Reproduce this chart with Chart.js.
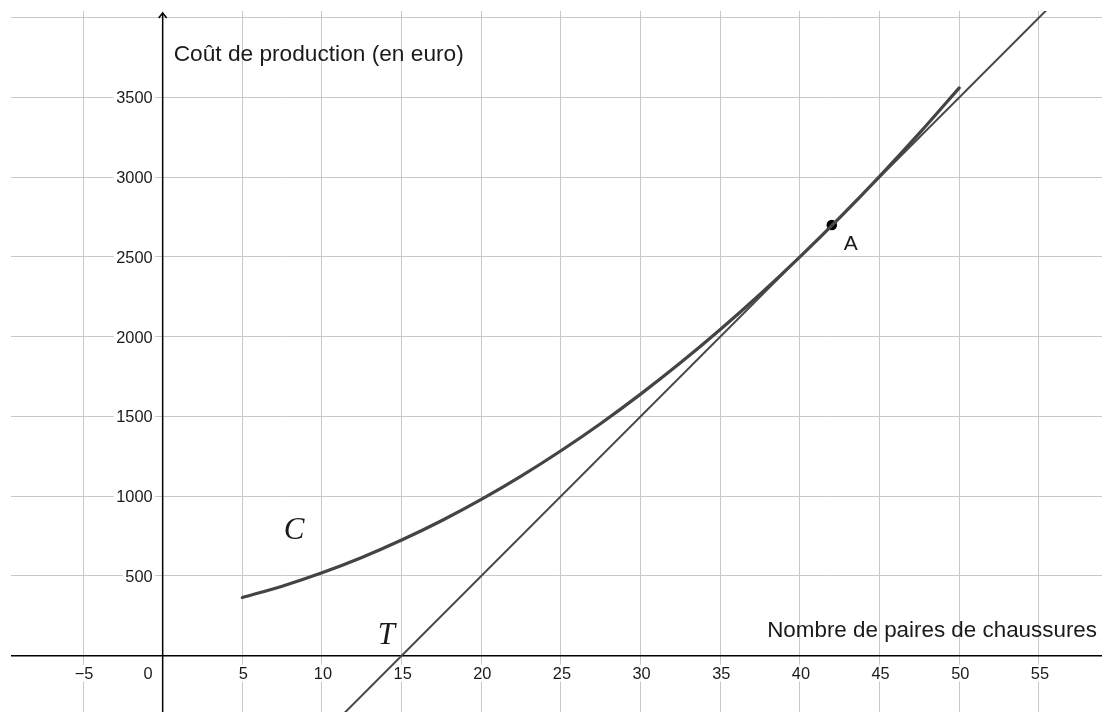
<!DOCTYPE html>
<html>
<head>
<meta charset="utf-8">
<script src="https://cdn.jsdelivr.net/npm/chart.js@4.4.1/dist/chart.umd.min.js"></script>
<style>
  html, body { margin: 0; padding: 0; background: #fff; overflow: hidden; }
  #c { display: block; width: 1102px; height: 712px; }
</style>
</head>
<body>
<canvas id="c" width="1102" height="712"></canvas>
<script>
// ---- data ----
const curveX = [5, 7.5, 10, 12.5, 15, 17.5, 20, 22.5, 25, 27.5, 30, 32.5, 35, 37.5, 40, 42.5, 45, 47.5, 50];
const curveY = [365, 436, 520, 616, 725, 846, 980, 1126, 1285, 1456, 1640, 1836, 2045, 2266, 2500, 2746, 3005, 3276, 3560];
const tangentX = [10, 60];
const tangentY = [-500, 4500];
const pointA = { x: 42, y: 2700 };
const xTicks = [-5, 0, 5, 10, 15, 20, 25, 30, 35, 40, 45, 50, 55];
const xTickLabels = ['\u22125', '0', '5', '10', '15', '20', '25', '30', '35', '40', '45', '50', '55'];
const yTicks = [0, 500, 1000, 1500, 2000, 2500, 3000, 3500, 4000];
const yTickLabels = ['', '500', '1000', '1500', '2000', '2500', '3000', '3500', ''];
const xTitle = 'Nombre de paires de chaussures';
const yTitle = 'Coût de production (en euro)';
const curveName = 'C';
const tangentName = 'T';
const pointName = 'A';

const SANS = '"Liberation Sans", Arial, "DejaVu Sans", sans-serif';
const SERIF = '"Liberation Serif", "DejaVu Serif", serif';

function pts(xs, ys) { return xs.map((v, i) => ({ x: v, y: ys[i] })); }

const overlay = {
  id: 'overlay',
  beforeDatasetsDraw(chart) {
    const { ctx, chartArea: ca, scales: { x, y } } = chart;
    const x0 = x.getPixelForValue(0);
    const y0 = y.getPixelForValue(0);
    ctx.save();
    // axes
    ctx.strokeStyle = '#000';
    ctx.lineWidth = 1.5;
    ctx.beginPath();
    ctx.moveTo(ca.left, y0); ctx.lineTo(ca.right, y0);
    ctx.moveTo(x0, ca.bottom); ctx.lineTo(x0, ca.top + 2);
    ctx.stroke();
    // arrow on y axis
    ctx.beginPath();
    ctx.moveTo(x0 - 4, ca.top + 7);
    ctx.lineTo(x0, ca.top + 2);
    ctx.lineTo(x0 + 4, ca.top + 7);
    ctx.stroke();

    // tick labels with white background
    ctx.font = '16.4px ' + SANS;
    ctx.textBaseline = 'alphabetic';
    function boxed(text, px, baseline, align) {
      const w = ctx.measureText(text).width;
      let left = align === 'right' ? px - w : px - w / 2;
      ctx.fillStyle = '#fff';
      ctx.fillRect(left - 2.5, baseline - 14, w + 5, 17);
      ctx.fillStyle = '#1a1a1a';
      ctx.textAlign = 'left';
      ctx.fillText(text, left, baseline);
    }
    xTicks.forEach((v, i) => {
      const lab = xTickLabels[i];
      if (!lab) return;
      if (v === 0) boxed(lab, x0 - 10, y0 + 23, 'right');
      else boxed(lab, x.getPixelForValue(v) + 1, y0 + 23, 'center');
    });
    yTicks.forEach((v, i) => {
      const lab = yTickLabels[i];
      if (!lab) return;
      boxed(lab, x0 - 10, y.getPixelForValue(v) + 6, 'right');
    });

    // axis titles
    ctx.fillStyle = '#1a1a1a';
    ctx.font = '22.7px ' + SANS;
    ctx.textAlign = 'left';
    ctx.fillText(yTitle, x0 + 11, ca.top + 50);
    ctx.textAlign = 'right';
    ctx.font = '22.4px ' + SANS;
    ctx.fillText(xTitle, ca.right - 5, y0 - 19);
    ctx.restore();
  },
  afterDatasetsDraw(chart) {
    const { ctx, scales: { x, y } } = chart;
    ctx.save();
    ctx.fillStyle = '#1a1a1a';
    ctx.textAlign = 'left';
    ctx.textBaseline = 'alphabetic';
    ctx.font = '21px ' + SANS;
    ctx.fillText(pointName, x.getPixelForValue(pointA.x) + 12, y.getPixelForValue(pointA.y) + 25);
    ctx.font = 'italic 31px ' + SERIF;
    ctx.fillText(curveName, x.getPixelForValue(7.6), y.getPixelForValue(730));
    ctx.fillText(tangentName, x.getPixelForValue(13.5), y.getPixelForValue(75));
    ctx.restore();
  }
};

new Chart(document.getElementById('c'), {
  type: 'scatter',
  data: {
    datasets: [
      {
        label: tangentName,
        data: pts(tangentX, tangentY),
        showLine: true,
        borderColor: '#474747',
        borderWidth: 2,
        pointRadius: 0,
        fill: false
      },
      {
        label: curveName,
        data: pts(curveX, curveY),
        showLine: true,
        borderColor: '#444444',
        borderWidth: 3.2,
        borderCapStyle: 'round',
        cubicInterpolationMode: 'monotone',
        pointRadius: 0,
        fill: false
      },
      {
        label: pointName,
        data: [pointA],
        showLine: false,
        pointRadius: 5.3,
        pointBackgroundColor: '#000',
        pointBorderColor: '#000',
        pointBorderWidth: 0
      }
    ]
  },
  options: {
    responsive: false,
    maintainAspectRatio: false,
    animation: false,
    events: [],
    layout: { autoPadding: false, padding: { left: 11, top: 11, right: 0, bottom: 0 } },
    plugins: { legend: { display: false }, tooltip: { enabled: false } },
    scales: {
      x: {
        type: 'linear',
        min: -9.52,
        max: 58.96,
        afterBuildTicks: (s) => { s.ticks = xTicks.map(v => ({ value: v })); },
        ticks: { display: false },
        grid: { color: '#c8c8c8', lineWidth: 1, drawTicks: false },
        border: { display: false }
      },
      y: {
        type: 'linear',
        min: -353,
        max: 4042,
        afterBuildTicks: (s) => { s.ticks = yTicks.map(v => ({ value: v })); },
        ticks: { display: false },
        grid: { color: '#c8c8c8', lineWidth: 1, drawTicks: false },
        border: { display: false }
      }
    }
  },
  plugins: [overlay]
});
</script>
</body>
</html>
